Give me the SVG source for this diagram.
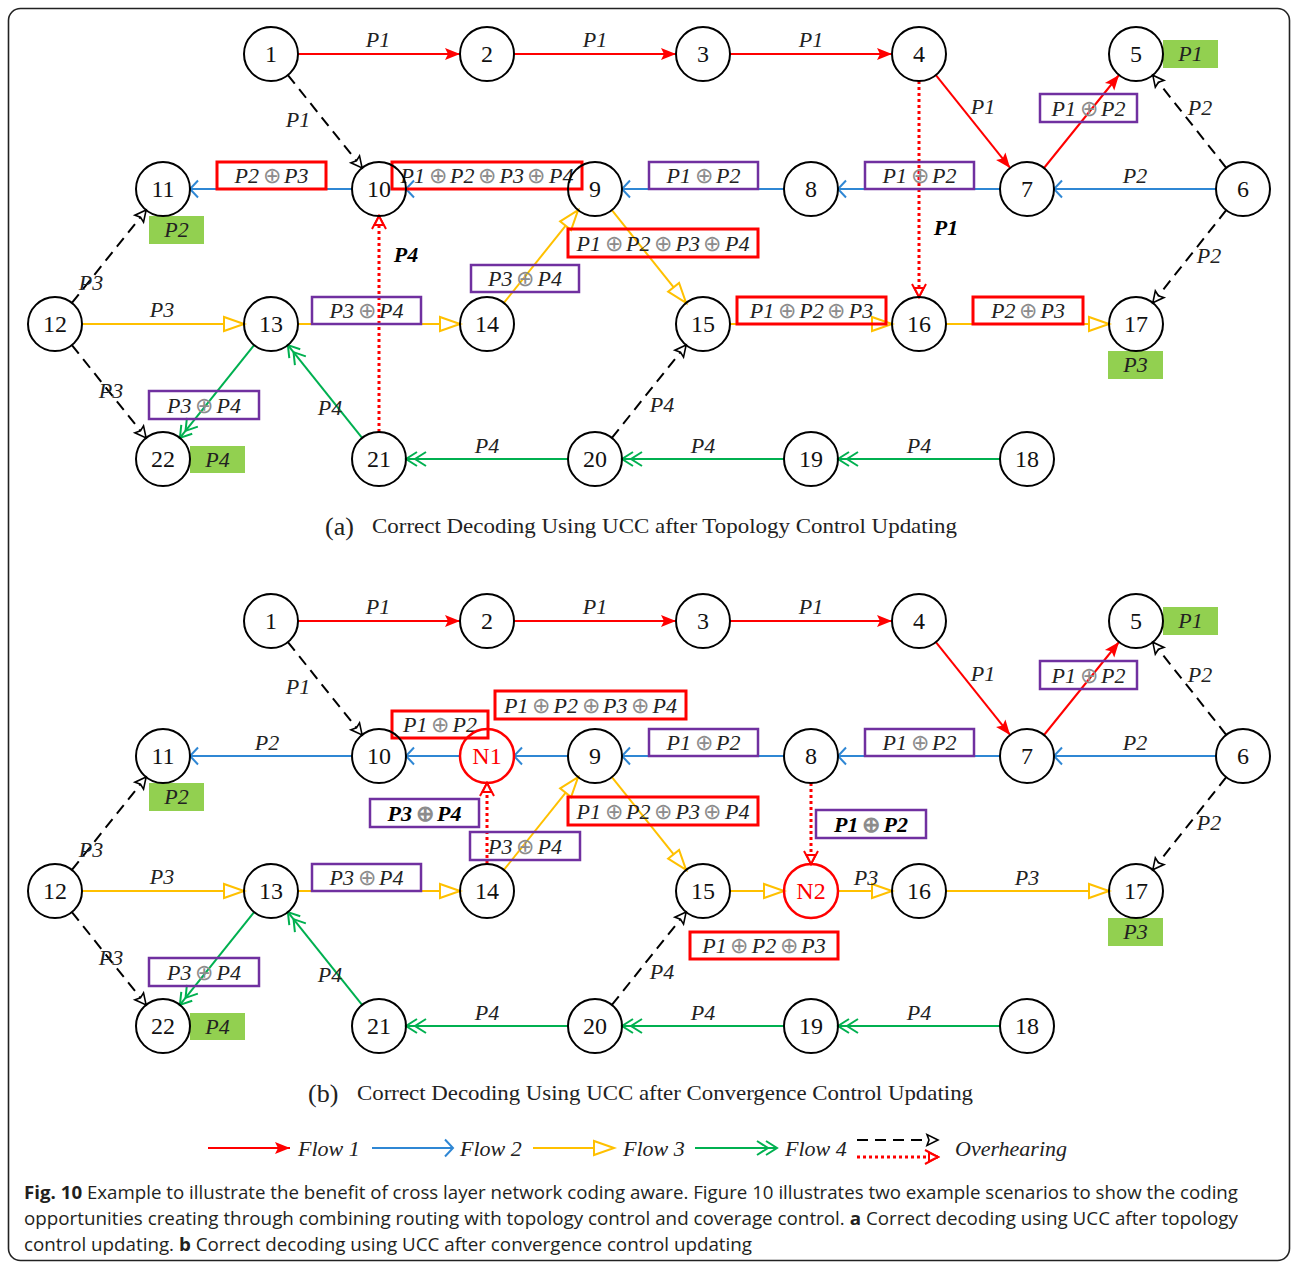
<svg xmlns="http://www.w3.org/2000/svg" width="1293" height="1265" viewBox="0 0 1293 1265">
<style>
  .nd circle{fill:none;stroke:#000;stroke-width:2}
  .nd text{font-family:"Liberation Serif",serif;font-size:24px;text-anchor:middle;fill:#111}
  .nr circle{fill:none;stroke:#f00;stroke-width:2.5}
  .nr text{font-family:"Liberation Serif",serif;font-size:24px;text-anchor:middle;fill:#f00}
  line{fill:none}
  .f1{stroke:#f00;stroke-width:2;marker-end:url(#mf1)}
  .f2{stroke:#2f87d4;stroke-width:2;marker-end:url(#mf2)}
  .f3{stroke:#ffc000;stroke-width:2;marker-end:url(#mf3)}
  .f4{stroke:#00b050;stroke-width:2;marker-end:url(#mf4)}
  .ov{stroke:#000;stroke-width:2;stroke-dasharray:11 7;marker-end:url(#mov)}
  .ovr{stroke:#f00;stroke-width:3;stroke-dasharray:3 3;marker-end:url(#movr)}
  .lb{font-family:"Liberation Serif",serif;font-style:italic;font-size:22px;text-anchor:middle;fill:#222;white-space:pre}
  .cp{word-spacing:-2px}
  .bd{font-weight:bold;fill:#000}
  .op{fill:#8c8c8c;font-style:normal;font-size:22px}
  .rb{fill:none;stroke:#f00;stroke-width:3}
  .pb{fill:none;stroke:#7030a0;stroke-width:2.5}
  .gb{fill:#92d050}
  .cap{font-family:"Liberation Serif",serif;font-size:22px;fill:#222}
  .big{font-size:26px}
  .leg{font-family:"Liberation Serif",serif;font-style:italic;font-size:22px;fill:#222}
  .fig{font-family:"Open Sans","Noto Sans",sans-serif;font-size:18px;fill:#231f20}
</style>
<defs>
  <marker id="mf1" markerUnits="userSpaceOnUse" viewBox="-30 -15 32 30" markerWidth="32" markerHeight="30" refX="0" refY="0" orient="auto" overflow="visible">
    <path d="M0,0 L-15,-6 L-12,0 L-15,6 Z" fill="#f00"/>
  </marker>
  <marker id="mf2" markerUnits="userSpaceOnUse" viewBox="-30 -15 32 30" markerWidth="32" markerHeight="30" refX="0" refY="0" orient="auto" overflow="visible">
    <path d="M-8,-8.5 L0,0 L-8,8.5" fill="none" stroke="#2f87d4" stroke-width="2"/>
  </marker>
  <marker id="mf3" markerUnits="userSpaceOnUse" viewBox="-30 -15 32 30" markerWidth="32" markerHeight="30" refX="0" refY="0" orient="auto" overflow="visible">
    <path d="M0,0 L-20,-7 L-20,7 Z" fill="#fff" stroke="#ffc000" stroke-width="2"/>
  </marker>
  <marker id="mf4" markerUnits="userSpaceOnUse" viewBox="-30 -15 32 30" markerWidth="32" markerHeight="30" refX="0" refY="0" orient="auto" overflow="visible">
    <path d="M-11,-7 L0,0 L-11,7 M-20,-7 L-9,0 L-20,7" fill="none" stroke="#00b050" stroke-width="2"/>
  </marker>
  <marker id="mov" markerUnits="userSpaceOnUse" viewBox="-30 -15 32 30" markerWidth="32" markerHeight="30" refX="0" refY="0" orient="auto" overflow="visible">
    <path d="M0,0 L-11,-5.5 L-9,0 L-11,5.5 Z" fill="#fff" stroke="#000" stroke-width="1.6"/>
  </marker>
  <marker id="movr" markerUnits="userSpaceOnUse" viewBox="-30 -15 32 30" markerWidth="32" markerHeight="30" refX="0" refY="0" orient="auto" overflow="visible">
    <path d="M-13,-7 L0,0 L-13,7" fill="none" stroke="#f00" stroke-width="2"/>
    <path d="M0,0 L-9,-4.5 L-9,4.5 Z" fill="#fff" stroke="#f00" stroke-width="2"/>
  </marker>
</defs>

<rect x="0" y="0" width="1293" height="1265" fill="#fff"/>
<rect x="8.5" y="8.5" width="1281" height="1252" rx="12" fill="none" stroke="#222" stroke-width="1.6"/>

<!-- ===== connectors ===== -->
<g id="connectors">
  <!-- panel a -->
  <line class="f1" x1="298" y1="54" x2="460" y2="54"/>
  <line class="f1" x1="514" y1="54" x2="676" y2="54"/>
  <line class="f1" x1="730" y1="54" x2="892" y2="54"/>
  <line class="f1" x1="935.9" y1="75.1" x2="1010.1" y2="167.9"/>
  <line class="f1" x1="1044" y1="168" x2="1119" y2="75"/>
  <line class="f2" x1="1216" y1="189" x2="1054" y2="189"/>
  <line class="f2" x1="1000" y1="189" x2="838" y2="189"/>
  <line class="f2" x1="784" y1="189" x2="622" y2="189"/>
  <line class="f2" x1="568" y1="189" x2="406" y2="189"/>
  <line class="f2" x1="352" y1="189" x2="190" y2="189"/>
  <line class="f3" x1="82" y1="324" x2="244" y2="324"/>
  <line class="f3" x1="298" y1="324" x2="460" y2="324"/>
  <line class="f3" x1="503.9" y1="302.9" x2="578.1" y2="210.1"/>
  <line class="f3" x1="611.9" y1="210.1" x2="686.1" y2="302.9"/>
  <line class="f3" x1="730" y1="324" x2="892" y2="324"/>
  <line class="f3" x1="946" y1="324" x2="1109" y2="324"/>
  <line class="f4" x1="1000" y1="459" x2="838" y2="459"/>
  <line class="f4" x1="784" y1="459" x2="622" y2="459"/>
  <line class="f4" x1="568" y1="459" x2="406" y2="459"/>
  <line class="f4" x1="362.1" y1="437.9" x2="287.9" y2="345.1"/>
  <line class="f4" x1="254.1" y1="345.1" x2="179.9" y2="437.9"/>
  <line class="ov" x1="287.9" y1="75.1" x2="362.1" y2="167.9"/>
  <line class="ov" x1="71.9" y1="302.9" x2="146.1" y2="210.1"/>
  <line class="ov" x1="71.9" y1="345.1" x2="146.1" y2="437.9"/>
  <line class="ov" x1="1226.2" y1="167.8" x2="1152.8" y2="75.2"/>
  <line class="ov" x1="1226.2" y1="210.2" x2="1152.8" y2="302.8"/>
  <line class="ov" x1="611.9" y1="437.9" x2="686.1" y2="345.1"/>
  <line class="ovr" x1="919" y1="81" x2="919" y2="297"/>
  <line class="ovr" x1="379" y1="432" x2="379" y2="216"/>

  <!-- panel b -->
  <line class="f1" x1="298" y1="621" x2="460" y2="621"/>
  <line class="f1" x1="514" y1="621" x2="676" y2="621"/>
  <line class="f1" x1="730" y1="621" x2="892" y2="621"/>
  <line class="f1" x1="935.9" y1="642.1" x2="1010.1" y2="734.9"/>
  <line class="f1" x1="1044" y1="735" x2="1119" y2="642"/>
  <line class="f2" x1="1216" y1="756" x2="1054" y2="756"/>
  <line class="f2" x1="1000" y1="756" x2="838" y2="756"/>
  <line class="f2" x1="784" y1="756" x2="622" y2="756"/>
  <line class="f2" x1="568" y1="756" x2="514" y2="756"/>
  <line class="f2" x1="460" y1="756" x2="406" y2="756"/>
  <line class="f2" x1="352" y1="756" x2="190" y2="756"/>
  <line class="f3" x1="82" y1="891" x2="244" y2="891"/>
  <line class="f3" x1="298" y1="891" x2="460" y2="891"/>
  <line class="f3" x1="503.9" y1="869.9" x2="578.1" y2="777.1"/>
  <line class="f3" x1="611.9" y1="777.1" x2="686.1" y2="869.9"/>
  <line class="f3" x1="730" y1="891" x2="784" y2="891"/>
  <line class="f3" x1="838" y1="891" x2="892" y2="891"/>
  <line class="f3" x1="946" y1="891" x2="1109" y2="891"/>
  <line class="f4" x1="1000" y1="1026" x2="838" y2="1026"/>
  <line class="f4" x1="784" y1="1026" x2="622" y2="1026"/>
  <line class="f4" x1="568" y1="1026" x2="406" y2="1026"/>
  <line class="f4" x1="362.1" y1="1004.9" x2="287.9" y2="912.1"/>
  <line class="f4" x1="254.1" y1="912.1" x2="179.9" y2="1004.9"/>
  <line class="ov" x1="287.9" y1="642.1" x2="362.1" y2="734.9"/>
  <line class="ov" x1="71.9" y1="869.9" x2="146.1" y2="777.1"/>
  <line class="ov" x1="71.9" y1="912.1" x2="146.1" y2="1004.9"/>
  <line class="ov" x1="1226.2" y1="734.8" x2="1152.8" y2="642.2"/>
  <line class="ov" x1="1226.2" y1="777.2" x2="1152.8" y2="869.8"/>
  <line class="ov" x1="611.9" y1="1004.9" x2="686.1" y2="912.1"/>
  <line class="ovr" x1="487" y1="864" x2="487" y2="783"/>
  <line class="ovr" x1="811" y1="783" x2="811" y2="864"/>
</g>

<!-- ===== edge labels ===== -->
<g id="labels">
  <!-- panel a plain labels -->
  <text class="lb" x="378" y="47">P1</text>
  <text class="lb" x="595" y="47">P1</text>
  <text class="lb" x="811" y="47">P1</text>
  <text class="lb" x="983" y="114">P1</text>
  <text class="lb" x="1135" y="183">P2</text>
  <text class="lb" x="1200" y="115">P2</text>
  <text class="lb" x="1209" y="263">P2</text>
  <text class="lb" x="298" y="127">P1</text>
  <text class="lb" x="91" y="290">P3</text>
  <text class="lb" x="111" y="398">P3</text>
  <text class="lb" x="162" y="317">P3</text>
  <text class="lb" x="330" y="415">P4</text>
  <text class="lb" x="662" y="412">P4</text>
  <text class="lb" x="487" y="453">P4</text>
  <text class="lb" x="703" y="453">P4</text>
  <text class="lb" x="919" y="453">P4</text>
  <text class="lb bd" x="406" y="262">P4</text>
  <text class="lb bd" x="946" y="235">P1</text>

  <!-- panel a coded packets -->
  <rect class="rb" x="217" y="162" width="109" height="27"/>
  <text class="lb cp" x="271.5" y="183">P2 <tspan class="op">⊕</tspan> P3</text>
  <rect class="rb" x="392" y="162" width="190" height="27"/>
  <text class="lb cp" x="487" y="183">P1 <tspan class="op">⊕</tspan> P2 <tspan class="op">⊕</tspan> P3 <tspan class="op">⊕</tspan> P4</text>
  <rect class="pb" x="649" y="162" width="109" height="27"/>
  <text class="lb cp" x="703.5" y="183">P1 <tspan class="op">⊕</tspan> P2</text>
  <rect class="pb" x="865" y="162" width="109" height="27"/>
  <text class="lb cp" x="919.5" y="183">P1 <tspan class="op">⊕</tspan> P2</text>
  <rect class="pb" x="1040" y="94" width="97" height="28"/>
  <text class="lb cp" x="1088.5" y="116">P1 <tspan class="op">⊕</tspan> P2</text>
  <rect class="rb" x="568" y="229" width="190" height="28"/>
  <text class="lb cp" x="663" y="251">P1 <tspan class="op">⊕</tspan> P2 <tspan class="op">⊕</tspan> P3 <tspan class="op">⊕</tspan> P4</text>
  <rect class="pb" x="471" y="265" width="108" height="27"/>
  <text class="lb cp" x="525" y="286">P3 <tspan class="op">⊕</tspan> P4</text>
  <rect class="pb" x="312" y="297" width="109" height="27"/>
  <text class="lb cp" x="366.5" y="318">P3 <tspan class="op">⊕</tspan> P4</text>
  <rect class="pb" x="149" y="391" width="110" height="28"/>
  <text class="lb cp" x="204" y="413">P3 <tspan class="op">⊕</tspan> P4</text>
  <rect class="rb" x="737" y="297" width="149" height="27"/>
  <text class="lb cp" x="811.5" y="318">P1 <tspan class="op">⊕</tspan> P2 <tspan class="op">⊕</tspan> P3</text>
  <rect class="rb" x="973" y="297" width="110" height="27"/>
  <text class="lb cp" x="1028" y="318">P2 <tspan class="op">⊕</tspan> P3</text>

  <!-- decoded packets -->
  <rect class="gb" x="1163" y="40" width="55" height="28"/>
  <text class="lb" x="1190.5" y="61">P1</text>
  <rect class="gb" x="149" y="216" width="55" height="28"/>
  <text class="lb" x="176.5" y="237">P2</text>
  <rect class="gb" x="1108" y="351" width="55" height="28"/>
  <text class="lb" x="1135.5" y="372">P3</text>
  <rect class="gb" x="190" y="446" width="55" height="27"/>
  <text class="lb" x="217.5" y="467">P4</text>

  <!-- panel b plain labels -->
  <text class="lb" x="378" y="614">P1</text>
  <text class="lb" x="595" y="614">P1</text>
  <text class="lb" x="811" y="614">P1</text>
  <text class="lb" x="983" y="681">P1</text>
  <text class="lb" x="1135" y="750">P2</text>
  <text class="lb" x="1200" y="682">P2</text>
  <text class="lb" x="1209" y="830">P2</text>
  <text class="lb" x="298" y="694">P1</text>
  <text class="lb" x="267" y="750">P2</text>
  <text class="lb" x="91" y="857">P3</text>
  <text class="lb" x="111" y="965">P3</text>
  <text class="lb" x="162" y="884">P3</text>
  <text class="lb" x="330" y="982">P4</text>
  <text class="lb" x="662" y="979">P4</text>
  <text class="lb" x="487" y="1020">P4</text>
  <text class="lb" x="703" y="1020">P4</text>
  <text class="lb" x="919" y="1020">P4</text>
  <text class="lb" x="866" y="885">P3</text>
  <text class="lb" x="1027" y="885">P3</text>

  <!-- panel b coded packets -->
  <rect class="rb" x="392" y="711" width="96" height="27"/>
  <text class="lb cp" x="440" y="732">P1 <tspan class="op">⊕</tspan> P2</text>
  <rect class="rb" x="495" y="691" width="191" height="28"/>
  <text class="lb cp" x="590.5" y="713">P1 <tspan class="op">⊕</tspan> P2 <tspan class="op">⊕</tspan> P3 <tspan class="op">⊕</tspan> P4</text>
  <rect class="pb" x="649" y="729" width="109" height="27"/>
  <text class="lb cp" x="703.5" y="750">P1 <tspan class="op">⊕</tspan> P2</text>
  <rect class="pb" x="865" y="729" width="109" height="27"/>
  <text class="lb cp" x="919.5" y="750">P1 <tspan class="op">⊕</tspan> P2</text>
  <rect class="pb" x="1040" y="661" width="97" height="28"/>
  <text class="lb cp" x="1088.5" y="683">P1 <tspan class="op">⊕</tspan> P2</text>
  <rect class="pb" x="370" y="799" width="109" height="28"/>
  <text class="lb cp bd" x="424.5" y="821">P3 <tspan class="op">⊕</tspan> P4</text>
  <rect class="pb" x="470" y="832" width="110" height="28"/>
  <text class="lb cp" x="525" y="854">P3 <tspan class="op">⊕</tspan> P4</text>
  <rect class="rb" x="568" y="797" width="190" height="28"/>
  <text class="lb cp" x="663" y="819">P1 <tspan class="op">⊕</tspan> P2 <tspan class="op">⊕</tspan> P3 <tspan class="op">⊕</tspan> P4</text>
  <rect class="pb" x="816" y="810" width="110" height="28"/>
  <text class="lb cp bd" x="871" y="832">P1 <tspan class="op">⊕</tspan> P2</text>
  <rect class="rb" x="690" y="932" width="148" height="27"/>
  <text class="lb cp" x="764" y="953">P1 <tspan class="op">⊕</tspan> P2 <tspan class="op">⊕</tspan> P3</text>
  <rect class="pb" x="312" y="864" width="109" height="27"/>
  <text class="lb cp" x="366.5" y="885">P3 <tspan class="op">⊕</tspan> P4</text>
  <rect class="pb" x="149" y="958" width="110" height="28"/>
  <text class="lb cp" x="204" y="980">P3 <tspan class="op">⊕</tspan> P4</text>

  <rect class="gb" x="1163" y="607" width="55" height="28"/>
  <text class="lb" x="1190.5" y="628">P1</text>
  <rect class="gb" x="149" y="783" width="55" height="28"/>
  <text class="lb" x="176.5" y="804">P2</text>
  <rect class="gb" x="1108" y="918" width="55" height="28"/>
  <text class="lb" x="1135.5" y="939">P3</text>
  <rect class="gb" x="190" y="1013" width="55" height="27"/>
  <text class="lb" x="217.5" y="1034">P4</text>
</g>

<!-- ===== nodes, panel a ===== -->
<g id="a1" class="nd"><circle cx="271" cy="54" r="27"/><text x="271" y="62">1</text></g>
<g id="a2" class="nd"><circle cx="487" cy="54" r="27"/><text x="487" y="62">2</text></g>
<g id="a3" class="nd"><circle cx="703" cy="54" r="27"/><text x="703" y="62">3</text></g>
<g id="a4" class="nd"><circle cx="919" cy="54" r="27"/><text x="919" y="62">4</text></g>
<g id="a5" class="nd"><circle cx="1136" cy="54" r="27"/><text x="1136" y="62">5</text></g>
<g id="a6" class="nd"><circle cx="1243" cy="189" r="27"/><text x="1243" y="197">6</text></g>
<g id="a7" class="nd"><circle cx="1027" cy="189" r="27"/><text x="1027" y="197">7</text></g>
<g id="a8" class="nd"><circle cx="811" cy="189" r="27"/><text x="811" y="197">8</text></g>
<g id="a9" class="nd"><circle cx="595" cy="189" r="27"/><text x="595" y="197">9</text></g>
<g id="a10" class="nd"><circle cx="379" cy="189" r="27"/><text x="379" y="197">10</text></g>
<g id="a11" class="nd"><circle cx="163" cy="189" r="27"/><text x="163" y="197">11</text></g>
<g id="a12" class="nd"><circle cx="55" cy="324" r="27"/><text x="55" y="332">12</text></g>
<g id="a13" class="nd"><circle cx="271" cy="324" r="27"/><text x="271" y="332">13</text></g>
<g id="a14" class="nd"><circle cx="487" cy="324" r="27"/><text x="487" y="332">14</text></g>
<g id="a15" class="nd"><circle cx="703" cy="324" r="27"/><text x="703" y="332">15</text></g>
<g id="a16" class="nd"><circle cx="919" cy="324" r="27"/><text x="919" y="332">16</text></g>
<g id="a17" class="nd"><circle cx="1136" cy="324" r="27"/><text x="1136" y="332">17</text></g>
<g id="a18" class="nd"><circle cx="1027" cy="459" r="27"/><text x="1027" y="467">18</text></g>
<g id="a19" class="nd"><circle cx="811" cy="459" r="27"/><text x="811" y="467">19</text></g>
<g id="a20" class="nd"><circle cx="595" cy="459" r="27"/><text x="595" y="467">20</text></g>
<g id="a21" class="nd"><circle cx="379" cy="459" r="27"/><text x="379" y="467">21</text></g>
<g id="a22" class="nd"><circle cx="163" cy="459" r="27"/><text x="163" y="467">22</text></g>

<!-- ===== nodes, panel b ===== -->
<g id="b1" class="nd"><circle cx="271" cy="621" r="27"/><text x="271" y="629">1</text></g>
<g id="b2" class="nd"><circle cx="487" cy="621" r="27"/><text x="487" y="629">2</text></g>
<g id="b3" class="nd"><circle cx="703" cy="621" r="27"/><text x="703" y="629">3</text></g>
<g id="b4" class="nd"><circle cx="919" cy="621" r="27"/><text x="919" y="629">4</text></g>
<g id="b5" class="nd"><circle cx="1136" cy="621" r="27"/><text x="1136" y="629">5</text></g>
<g id="b6" class="nd"><circle cx="1243" cy="756" r="27"/><text x="1243" y="764">6</text></g>
<g id="b7" class="nd"><circle cx="1027" cy="756" r="27"/><text x="1027" y="764">7</text></g>
<g id="b8" class="nd"><circle cx="811" cy="756" r="27"/><text x="811" y="764">8</text></g>
<g id="b9" class="nd"><circle cx="595" cy="756" r="27"/><text x="595" y="764">9</text></g>
<g id="bN1" class="nr"><circle cx="487" cy="756" r="27"/><text x="487" y="764">N1</text></g>
<g id="b10" class="nd"><circle cx="379" cy="756" r="27"/><text x="379" y="764">10</text></g>
<g id="b11" class="nd"><circle cx="163" cy="756" r="27"/><text x="163" y="764">11</text></g>
<g id="b12" class="nd"><circle cx="55" cy="891" r="27"/><text x="55" y="899">12</text></g>
<g id="b13" class="nd"><circle cx="271" cy="891" r="27"/><text x="271" y="899">13</text></g>
<g id="b14" class="nd"><circle cx="487" cy="891" r="27"/><text x="487" y="899">14</text></g>
<g id="b15" class="nd"><circle cx="703" cy="891" r="27"/><text x="703" y="899">15</text></g>
<g id="bN2" class="nr"><circle cx="811" cy="891" r="27"/><text x="811" y="899">N2</text></g>
<g id="b16" class="nd"><circle cx="919" cy="891" r="27"/><text x="919" y="899">16</text></g>
<g id="b17" class="nd"><circle cx="1136" cy="891" r="27"/><text x="1136" y="899">17</text></g>
<g id="b18" class="nd"><circle cx="1027" cy="1026" r="27"/><text x="1027" y="1034">18</text></g>
<g id="b19" class="nd"><circle cx="811" cy="1026" r="27"/><text x="811" y="1034">19</text></g>
<g id="b20" class="nd"><circle cx="595" cy="1026" r="27"/><text x="595" y="1034">20</text></g>
<g id="b21" class="nd"><circle cx="379" cy="1026" r="27"/><text x="379" y="1034">21</text></g>
<g id="b22" class="nd"><circle cx="163" cy="1026" r="27"/><text x="163" y="1034">22</text></g>

<!-- ===== panel captions ===== -->
<g id="captions">
  <text class="cap big" x="325" y="535">(a)</text>
  <text class="cap" x="372" y="533" textLength="585" lengthAdjust="spacingAndGlyphs">Correct Decoding Using UCC after Topology Control Updating</text>
  <text class="cap big" x="308" y="1102">(b)</text>
  <text class="cap" x="357" y="1100" textLength="616" lengthAdjust="spacingAndGlyphs">Correct Decoding Using UCC after Convergence Control Updating</text>
</g>

<!-- ===== legend ===== -->
<g id="legend">
  <line class="f1" x1="208" y1="1148" x2="290" y2="1148"/>
  <text class="leg" x="298" y="1156">Flow 1</text>
  <line class="f2" x1="372" y1="1148" x2="453" y2="1148"/>
  <text class="leg" x="460" y="1156">Flow 2</text>
  <line class="f3" x1="533" y1="1148" x2="614" y2="1148"/>
  <text class="leg" x="623" y="1156">Flow 3</text>
  <line class="f4" x1="695" y1="1148" x2="777" y2="1148"/>
  <text class="leg" x="785" y="1156">Flow 4</text>
  <line class="ov" x1="857" y1="1140" x2="938" y2="1140"/>
  <line class="ovr" x1="857" y1="1157" x2="938" y2="1157"/>
  <text class="leg" x="955" y="1156">Overhearing</text>
</g>

<!-- ===== figure caption ===== -->
<g id="figcaption">
  <text class="fig" x="24" y="1199" textLength="1214" lengthAdjust="spacingAndGlyphs"><tspan font-weight="bold">Fig. 10</tspan> Example to illustrate the benefit of cross layer network coding aware. Figure 10 illustrates two example scenarios to show the coding</text>
  <text class="fig" x="24" y="1225" textLength="1214" lengthAdjust="spacingAndGlyphs">opportunities creating through combining routing with topology control and coverage control. <tspan font-weight="bold">a</tspan> Correct decoding using UCC after topology</text>
  <text class="fig" x="24" y="1251" textLength="728" lengthAdjust="spacingAndGlyphs">control updating. <tspan font-weight="bold">b</tspan> Correct decoding using UCC after convergence control updating</text>
</g>
</svg>
